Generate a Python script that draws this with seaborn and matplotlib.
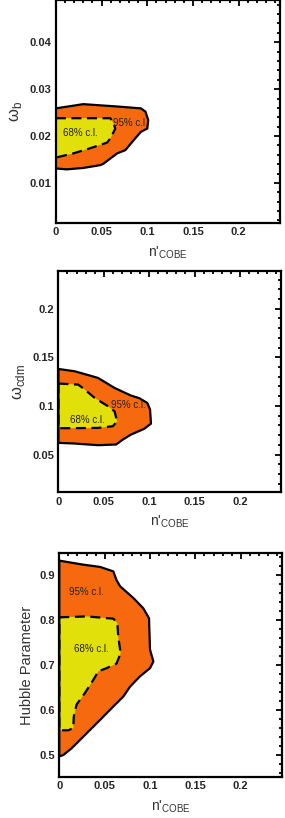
import numpy as np
import pandas as pd
import seaborn as sns
import matplotlib
matplotlib.use("Agg")
from matplotlib import pyplot as plt
from matplotlib.ticker import MultipleLocator

# contours (x = n'_COBE)
# omega_b panel
ob95_x = [0, 0.030, 0.067, 0.093, 0.098, 0.101, 0.100, 0.093, 0.085, 0.076, 0.067, 0.052, 0.0485, 0.030, 0.0118, 0]
ob95_y = [0.0259, 0.0268, 0.0263, 0.0259, 0.0252, 0.0234, 0.0216, 0.0209, 0.0191, 0.0170, 0.0163, 0.0141, 0.0138, 0.0132, 0.0129, 0.0131]
ob68_x = [0, 0.0596, 0.063, 0.065, 0.0596, 0.056, 0.0375, 0.019, 0.006, 0]
ob68_y = [0.0238, 0.0238, 0.0227, 0.0216, 0.0195, 0.0186, 0.0174, 0.0163, 0.0157, 0.0154]

# omega_cdm panel
oc95_x = [0, 0.018, 0.0436, 0.0618, 0.080, 0.089, 0.098, 0.101, 0.102, 0.0945, 0.080, 0.071, 0.0636, 0.0436, 0.018, 0]
oc95_y = [0.138, 0.1356, 0.1288, 0.1185, 0.1106, 0.108, 0.103, 0.0962, 0.0818, 0.0764, 0.0705, 0.0654, 0.0603, 0.0596, 0.0613, 0.062]
oc68_x = [0, 0.0218, 0.029, 0.040, 0.0545, 0.0618, 0.0647, 0.060, 0.0436, 0.018, 0]
oc68_y = [0.123, 0.1219, 0.1168, 0.1082, 0.0997, 0.0945, 0.0842, 0.0791, 0.0774, 0.0771, 0.0771]

# Hubble parameter panel
h95_x = [0, 0.0265, 0.0449, 0.0596, 0.063, 0.067, 0.0816, 0.0926, 0.0989, 0.100, 0.1037, 0.100, 0.089, 0.078,
         0.0706, 0.0596, 0.0449, 0.0265, 0.0136, 0.0044, 0]
h95_y = [0.933, 0.924, 0.919, 0.909, 0.890, 0.876, 0.850, 0.827, 0.805, 0.735, 0.709, 0.694, 0.676, 0.653,
         0.631, 0.609, 0.579, 0.542, 0.516, 0.501, 0.498]
h68_x = [0, 0.030, 0.0596, 0.064, 0.065, 0.0676, 0.063, 0.052, 0.043, 0.0375, 0.0283, 0.019, 0.016, 0.0154,
         0.0099, 0.0026, 0]
h68_y = [0.807, 0.809, 0.804, 0.794, 0.764, 0.727, 0.704, 0.694, 0.687, 0.668, 0.639, 0.613, 0.587, 0.561,
         0.556, 0.556, 0.556]

x_ticks = [0, 0.05, 0.1, 0.15, 0.2]
x_ticklabels = ['0', '0.05', '0.1', '0.15', '0.2']

panels = [
    dict(o95=(ob95_x, ob95_y), o68=(ob68_x, ob68_y), ylim=(0.0014, 0.049),
         yticks=[0.01, 0.02, 0.03, 0.04], yticklabels=['0.01', '0.02', '0.03', '0.04'], ymin=0.002,
         ylabel='ω$_\\mathregular{b}$', ylsize=12, t95=(0.0816, 0.0227), t68=(0.0265, 0.0207),
         pos=[0.196, 0.727, 0.786, 0.273]),
    dict(o95=(oc95_x, oc95_y), o68=(oc68_x, oc68_y), ylim=(0.011, 0.239),
         yticks=[0.05, 0.1, 0.15, 0.2], yticklabels=['0.05', '0.1', '0.15', '0.2'], ymin=0.01,
         ylabel='ω$_\\mathregular{cdm}$', ylsize=12, t95=(0.077, 0.1014), t68=(0.0316, 0.0853),
         pos=[0.205, 0.398, 0.78, 0.271]),
    dict(o95=(h95_x, h95_y), o68=(h68_x, h68_y), ylim=(0.452, 0.95),
         yticks=[0.5, 0.6, 0.7, 0.8, 0.9], yticklabels=['0.5', '0.6', '0.7', '0.8', '0.9'], ymin=0.02,
         ylabel='Hubble Parameter', ylsize=10.5, t95=(0.0294, 0.864), t68=(0.0357, 0.736),
         pos=[0.208, 0.050, 0.78, 0.274]),
]

sns.set_style("white")
plt.rcParams['font.family'] = ['Liberation Sans', 'DejaVu Sans']

orange = '#F7690F'
yellow = '#E2E00A'

fig = plt.figure(figsize=(2.85, 8.18), dpi=100)

for p in panels:
    ax = fig.add_axes(p['pos'])
    x95, y95 = p['o95']
    x68, y68 = p['o68']
    ax.fill(x95, y95, color=orange, lw=0, zorder=1)
    ax.fill(x68, y68, color=yellow, lw=0, zorder=2)
    d95 = pd.DataFrame({'x': x95 + [x95[0]], 'y': y95 + [y95[0]]})
    d68 = pd.DataFrame({'x': x68 + [x68[0]], 'y': y68 + [y68[0]]})
    sns.lineplot(data=d95, x='x', y='y', sort=False, estimator=None, color='black', lw=1.6, ax=ax, zorder=3)
    sns.lineplot(data=d68, x='x', y='y', sort=False, estimator=None, color='black', lw=1.6, ax=ax, zorder=4,
                 dashes=False)
    ax.lines[-1].set_dashes([4.5, 2.5])
    ax.text(*p['t95'], '95% c.l.', fontsize=7, ha='center', va='center', color='#222222', zorder=5)
    ax.text(*p['t68'], '68% c.l.', fontsize=7, ha='center', va='center', color='#222222', zorder=5)

    ax.set_xlim(0, 0.245)
    ax.set_ylim(*p['ylim'])
    ax.set_xticks(x_ticks)
    ax.set_xticklabels(x_ticklabels, fontweight='bold', fontsize=8)
    ax.set_yticks(p['yticks'])
    ax.set_yticklabels(p['yticklabels'], fontweight='bold', fontsize=8)
    ax.xaxis.set_minor_locator(MultipleLocator(0.01))
    ax.yaxis.set_minor_locator(MultipleLocator(p['ymin']))
    ax.tick_params(which='both', direction='in', top=True, right=True, color='black', width=1.3)
    ax.tick_params(which='major', length=4.5, pad=3)
    ax.tick_params(which='minor', length=2.2)
    for s in ax.spines.values():
        s.set_color('black')
        s.set_linewidth(1.6)
        s.set_visible(True)
    ax.set_xlabel("n'$_\\mathregular{COBE}$", fontsize=10, color='#333333', labelpad=5)
    ax.set_ylabel(p['ylabel'], fontsize=p['ylsize'], color='#333333', labelpad=4)

fig.savefig('out.png', dpi=100)
